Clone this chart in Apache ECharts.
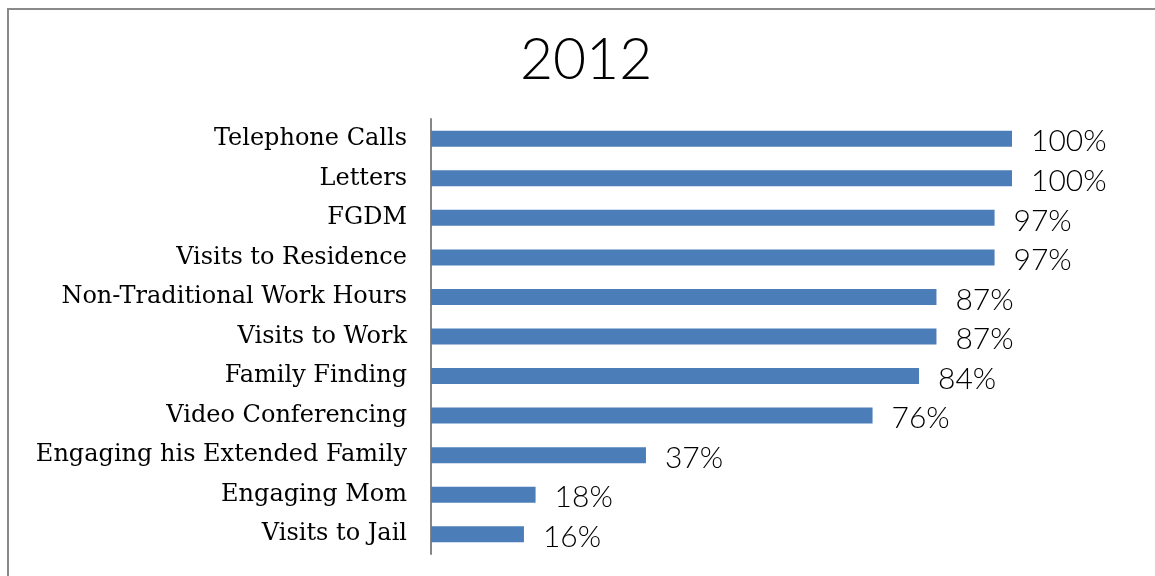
<!DOCTYPE html>
<html>
<head>
<meta charset="utf-8">
<script src="https://cdn.jsdelivr.net/npm/echarts@6/dist/echarts.min.js"></script>
<style>
  html, body { margin: 0; padding: 0; background: #fff; }
  #chart { width: 1155px; height: 576px; }
</style>
</head>
<body>
<div id="chart"></div>
<script>
// Outreach methods used in 2012, share of cases (%)
const categories = [
  'Telephone Calls',
  'Letters',
  'FGDM',
  'Visits to Residence',
  'Non-Traditional Work Hours',
  'Visits to Work',
  'Family Finding',
  'Video Conferencing',
  'Engaging his Extended Family',
  'Engaging Mom',
  'Visits to Jail'
];
const values = [100, 100, 97, 97, 87, 87, 84, 76, 37, 18, 16];
const chartTitle = '2012';

const chart = echarts.init(document.getElementById('chart'), null, { renderer: 'canvas' });

chart.setOption({
  backgroundColor: '#ffffff',
  animation: false,
  title: {
    text: chartTitle,
    left: 515,
    top: 27,
    textStyle: {
      fontFamily: 'Lato',
      fontWeight: 300,
      fontSize: 57,
      color: '#000'
    }
  },
  graphic: [{
    type: 'rect',
    shape: { x: 8, y: 9, width: 1300, height: 700 },
    style: { fill: 'none', stroke: '#8a8a8a', lineWidth: 2 },
    silent: true,
    z: -1
  }],
  grid: {
    left: 431,
    right: 143,
    top: 119,
    bottom: 22,
    containLabel: false
  },
  xAxis: {
    type: 'value',
    min: 0,
    max: 100,
    show: false
  },
  yAxis: {
    type: 'category',
    data: categories,
    inverse: true,
    axisLine: { show: true, lineStyle: { color: '#868686', width: 2 } },
    axisTick: { show: false },
    axisLabel: {
      margin: 24,
      fontFamily: 'DejaVu Serif',
      fontSize: 24,
      color: '#000'
    }
  },
  series: [{
    type: 'bar',
    data: values,
    barWidth: 16,
    itemStyle: { color: '#4B7EB9' },
    label: {
      show: true,
      position: 'right',
      distance: 19,
      offset: [0, 3],
      formatter: '{c}%',
      fontFamily: 'Lato',
      fontWeight: 300,
      fontSize: 30,
      color: '#000'
    }
  }]
});
</script>
</body>
</html>
